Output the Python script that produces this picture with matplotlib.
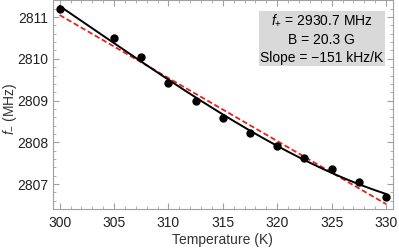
import numpy as np
import matplotlib.pyplot as plt
from matplotlib.ticker import MultipleLocator

plt.rcParams['font.family'] = ['Liberation Sans', 'DejaVu Sans']
plt.rcParams['mathtext.fontset'] = 'custom'
plt.rcParams['mathtext.rm'] = 'Liberation Sans'
plt.rcParams['mathtext.it'] = 'Liberation Sans:italic'

# measured points
temperature = [300, 305, 307.5, 310, 312.5, 315, 317.5, 320, 322.5, 325, 327.5, 330]
f_minus = [2811.19, 2810.51, 2810.04, 2809.43, 2809.00, 2808.59,
           2808.23, 2807.92, 2807.63, 2807.35, 2807.04, 2806.68]

# linear fit
lin_at_300 = 2811.05
slope = -0.151  # MHz/K

info_lines = [r'$f_{+}$ = 2930.7 MHz', 'B = 20.3 G', 'Slope = \u2212151 kHz/K']

frame_col = '#a0a0a0'
fs = 10

fig = plt.figure(figsize=(3.99, 2.48), dpi=100)
ax = fig.add_axes([0.132, 0.157, 0.853, 0.843])

t = np.array(temperature)
f = np.array(f_minus)

# smooth curve through data (cubic fit)
coef = np.polyfit(t, f, 3)
tt = np.linspace(300, 330, 200)
ax.plot(tt, np.polyval(coef, tt), color='black', lw=1.4, zorder=3)
ax.plot(tt, lin_at_300 + slope * (tt - 300), color='#e8201e', lw=1.3,
        ls=(0, (3, 1.5)), zorder=2)
ax.plot(t, f, 'o', color='black', ms=5, zorder=4)

ax.set_xlim(299.36, 330.64)
ax.set_ylim(2806.40, 2811.41)

ax.xaxis.set_major_locator(MultipleLocator(5))
ax.xaxis.set_minor_locator(MultipleLocator(1))
ax.yaxis.set_major_locator(MultipleLocator(1))
ax.yaxis.set_minor_locator(MultipleLocator(0.2))
ax.tick_params(which='both', direction='in', top=True, right=True,
               color=frame_col, labelsize=fs, labelcolor='#222222')
ax.tick_params(which='major', length=4, width=0.8)
ax.tick_params(which='minor', length=2, width=0.6)
ax.tick_params(axis='x', pad=5)
ax.tick_params(axis='y', pad=3)
for sp in ax.spines.values():
    sp.set_color(frame_col)
    sp.set_linewidth(0.8)

ax.set_xlabel('Temperature (K)', fontsize=fs, color='#333333', labelpad=2)
ax.set_ylabel(r'$f_{-}$ (MHz)', fontsize=fs, color='#333333')
ax.yaxis.set_label_coords(-0.098, 0.48)

ax.text(0.791, 0.813, '\n'.join(info_lines), transform=ax.transAxes,
        ha='center', va='center', fontsize=fs, linespacing=1.4,
        bbox=dict(boxstyle='square,pad=0.08', fc='#d9d9d9', ec='none'))

fig.savefig('out.png', dpi=100)
